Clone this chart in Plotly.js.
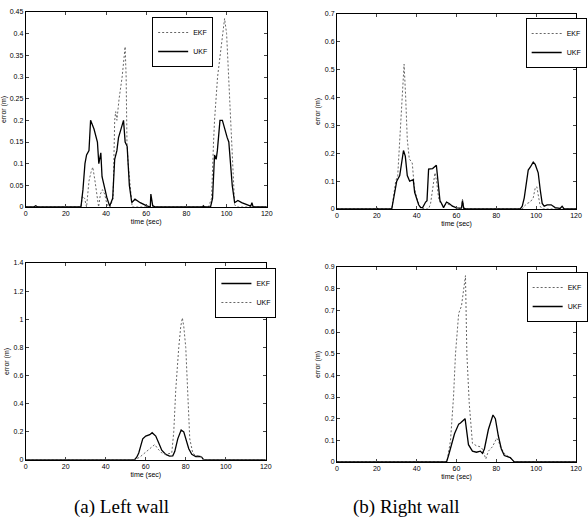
<!DOCTYPE html>
<html><head><meta charset="utf-8">
<script src="https://cdn.plot.ly/plotly-3.0.1.min.js"></script>
<style>html,body{margin:0;padding:0;background:#fff}#chart{width:588px;height:529px}</style>
</head><body><div id="chart"></div>
<script>
// ---- Top-left (a) ----
const tlEkfT = [0,27.5,28.2,29.3,30.3,31.5,32.5,33.4,34.5,35.5,36.3,37.2,38.2,39.3,40.5,42,43.5,44.3,44.8,45.4,46.5,48,49.5,50,50.4,51,52,53,91,92.5,93.5,94,95.5,96.8,98,99,100,101,101.8,102.5,103.2,104,105,120];
const tlEkfV = [0,0,0.025,0.02,0.0,0.06,0.08,0.092,0.06,0.03,0.0,0.03,0.04,0.03,0.005,0,0.02,0.2,0.22,0.2,0.25,0.3,0.37,0.3,0.15,0.1,0.05,0,0,0.02,0.15,0.2,0.3,0.35,0.4,0.435,0.4,0.3,0.2,0.15,0.05,0.005,0,0];
const tlUkfT = [0,4,5,6,27.5,28.5,29.5,30.3,31.5,32.3,34,35.7,36.4,37.4,38,39.3,40.5,41.8,43.3,44.3,45.4,46.2,48.7,49.5,50.5,51.6,52.8,54.4,57,60,62,62.3,63.2,64.5,88,88.4,89,92,93,94,94.8,95.4,96.7,97.9,99,100.3,101.1,102,102.8,104,105.6,107.5,110,112,112.6,113.2,120];
const tlUkfV = [0,0,0.003,0,0,0.04,0.1,0.12,0.13,0.2,0.18,0.15,0.1,0.125,0.07,0.04,0.02,0.002,0.02,0.11,0.13,0.16,0.2,0.15,0.14,0.05,0.01,0.018,0.01,0.003,0,0.03,0.003,0,0,0.003,0,0,0.02,0.12,0.11,0.13,0.2,0.2,0.18,0.16,0.15,0.1,0.05,0.01,0.015,0.01,0.005,0.002,0.01,0,0];

// ---- Top-right (b) ----
const trEkfT = [0,27.5,28.5,29.5,30.5,31.5,32.5,33.7,34.5,35.3,36.3,37.8,38.8,40,41,42,44,46,47,48,49.2,50,51,52,53.5,55,56.5,58,60,62.5,63,63.7,65,93,94,95.5,97,98.5,99.5,100.3,101,102,103,120];
const trEkfV = [0,0,0.05,0.1,0.12,0.25,0.4,0.52,0.4,0.25,0.18,0.165,0.08,0.04,0.02,0.005,0,0,0.02,0.08,0.13,0.1,0.04,0.02,0.01,0.02,0.015,0.008,0.003,0,0.035,0.002,0,0,0.01,0.02,0.025,0.04,0.075,0.08,0.05,0.01,0,0];
const trUkfT = [0,19.5,20,20.5,27.5,28.8,30,31.5,32.5,33.4,34.3,35.3,36.5,38.3,39,40,41,42,43,44.5,45.2,46,48,49.9,50.8,51.7,52.5,53.5,55,56.3,58,60,62.5,63,63.6,65,92,93,94,95,96,97,98.5,99.5,100.3,101,102,103,104,105.5,107.5,109.5,112,113,114,120];
const trUkfV = [0,0,0.003,0,0,0.05,0.1,0.12,0.17,0.21,0.19,0.12,0.1,0.105,0.06,0.035,0.015,0.005,0.005,0.025,0.03,0.143,0.145,0.157,0.1,0.03,0.02,0.005,0.025,0.02,0.01,0.004,0.003,0.03,0.003,0,0,0.01,0.04,0.1,0.14,0.15,0.168,0.16,0.14,0.13,0.07,0.02,0.01,0.015,0.015,0.005,0.002,0.01,0,0];

// ---- Bottom-left (a) : legend shows EKF solid, UKF dotted ----
const blEkfT = [0,15,54.3,55.5,56.5,57.5,58.5,60,62,63.2,65,66.5,68,70,71.9,73.5,74.5,76,77.7,79,80,81.5,83,85,87,88,89,120];
const blEkfV = [0,0,0,0.02,0.05,0.1,0.15,0.17,0.18,0.194,0.17,0.12,0.07,0.04,0.028,0.03,0.06,0.15,0.213,0.2,0.15,0.08,0.04,0.025,0.025,0.02,0,0];
const blUkfT = [0,54.3,57,59,61,62.9,64.5,66,68,70,72,73,74,75,76.5,77.5,78.3,79,80,81,82,83.5,85,87,88,89,120];
const blUkfV = [0,0,0.02,0.045,0.07,0.09,0.11,0.08,0.05,0.04,0.045,0.05,0.2,0.5,0.8,0.95,1.01,0.95,0.8,0.4,0.15,0.05,0.03,0.03,0.02,0,0];

// ---- Bottom-right (b) ----
const brEkfT = [0,40,55.2,57,58.5,59.5,61.1,62.5,63.5,64.5,65.2,66.4,68,70,72,73,74.7,76,78,80.2,81,82,84,86,87,88,89,120];
const brEkfV = [0,0,0,0.1,0.3,0.5,0.686,0.72,0.78,0.86,0.5,0.27,0.086,0.075,0.07,0.06,0.014,0.05,0.07,0.11,0.1,0.07,0.04,0.025,0.02,0.01,0,0];
const brUkfT = [0,55,56,57.5,59,61.1,62,64.3,65,66,68,70,72,73,74,76,78.3,79.5,81,82.5,84,86,87,88.5,89,120];
const brUkfV = [0,0,0.03,0.08,0.13,0.175,0.18,0.2,0.15,0.08,0.05,0.045,0.05,0.04,0.06,0.15,0.217,0.2,0.12,0.06,0.03,0.025,0.02,0.005,0,0];

const xTicks = [0,20,40,60,80,100,120];
const yRanges = {tl:[0,0.45], tr:[0,0.7], bl:[0,1.4], br:[0,0.9]};
const yDticks = {tl:0.05, tr:0.1, bl:0.2, br:0.1};

const W = 588, H = 529;
const dotted = {color:'#666', width:1, dash:'2px,2px'};
const solid = {color:'#000', width:1.3};

const traces = [
  {x:tlEkfT, y:tlEkfV, name:'EKF', line:dotted, xaxis:'x', yaxis:'y', legend:'legend'},
  {x:tlUkfT, y:tlUkfV, name:'UKF', line:solid, xaxis:'x', yaxis:'y', legend:'legend'},
  {x:trEkfT, y:trEkfV, name:'EKF', line:dotted, xaxis:'x2', yaxis:'y2', legend:'legend2'},
  {x:trUkfT, y:trUkfV, name:'UKF', line:solid, xaxis:'x2', yaxis:'y2', legend:'legend2'},
  {x:blEkfT, y:blEkfV, name:'EKF', line:solid, xaxis:'x3', yaxis:'y3', legend:'legend3'},
  {x:blUkfT, y:blUkfV, name:'UKF', line:dotted, xaxis:'x3', yaxis:'y3', legend:'legend3'},
  {x:brEkfT, y:brEkfV, name:'EKF', line:dotted, xaxis:'x4', yaxis:'y4', legend:'legend4'},
  {x:brUkfT, y:brUkfV, name:'UKF', line:solid, xaxis:'x4', yaxis:'y4', legend:'legend4'}
].map(t => Object.assign({type:'scatter', mode:'lines'}, t));

const fnt = {family:'Liberation Sans, Arial, sans-serif', size:7, color:'#000'};
function xa(l, r, anchor){
  return {domain:[l/W, r/W], anchor:anchor, range:[0,120], tickvals:xTicks, ticks:'inside', ticklen:3,
    showline:true, linecolor:'#000', linewidth:1, mirror:'ticks', showgrid:false, zeroline:false,
    tickfont:fnt, title:{text:'time (sec)', font:fnt, standoff:2}};
}
function ya(top, bottom, anchor, rng, dt){
  return {domain:[1-bottom/H, 1-top/H], anchor:anchor, range:rng, dtick:dt, tick0:0, ticks:'inside', ticklen:3,
    showline:true, linecolor:'#000', linewidth:1, mirror:'ticks', showgrid:false, zeroline:false,
    tickfont:fnt, title:{text:'error (m)', font:fnt, standoff:3}};
}
function lg(left, top){
  return {x:left/W, y:1-top/H, xanchor:'left', yanchor:'top', bgcolor:'#fff', bordercolor:'#000', borderwidth:1,
    font:fnt, itemwidth:30, tracegroupgap:0, traceorder:'normal'};
}
const serif = {family:'Liberation Serif, DejaVu Serif, serif', size:19, color:'#000'};
const layout = {
  width:W, height:H, margin:{l:0,r:0,t:0,b:0}, paper_bgcolor:'#fff', plot_bgcolor:'#fff', showlegend:true,
  xaxis: xa(26,270,'y'),   yaxis: ya(12,207,'x',yRanges.tl,yDticks.tl),
  xaxis2: xa(341,583,'y2'), yaxis2: ya(14,209,'x2',yRanges.tr,yDticks.tr),
  xaxis3: xa(26,269,'y3'), yaxis3: ya(263,460,'x3',yRanges.bl,yDticks.bl),
  xaxis4: xa(341,583,'y4'), yaxis4: ya(267,462,'x4',yRanges.br,yDticks.br),
  legend: lg(154,17), legend2: lg(532,18), legend3: lg(218,268), legend4: lg(533,272),
  annotations:[
    {text:'(a) Left wall', xref:'paper', yref:'paper', x:123/W, y:1-507/H, showarrow:false, font:serif, xanchor:'center', yanchor:'middle'},
    {text:'(b) Right wall', xref:'paper', yref:'paper', x:411/W, y:1-507/H, showarrow:false, font:serif, xanchor:'center', yanchor:'middle'}
  ]
};
Plotly.newPlot('chart', traces, layout, {displayModeBar:false, staticPlot:true});
</script></body></html>
